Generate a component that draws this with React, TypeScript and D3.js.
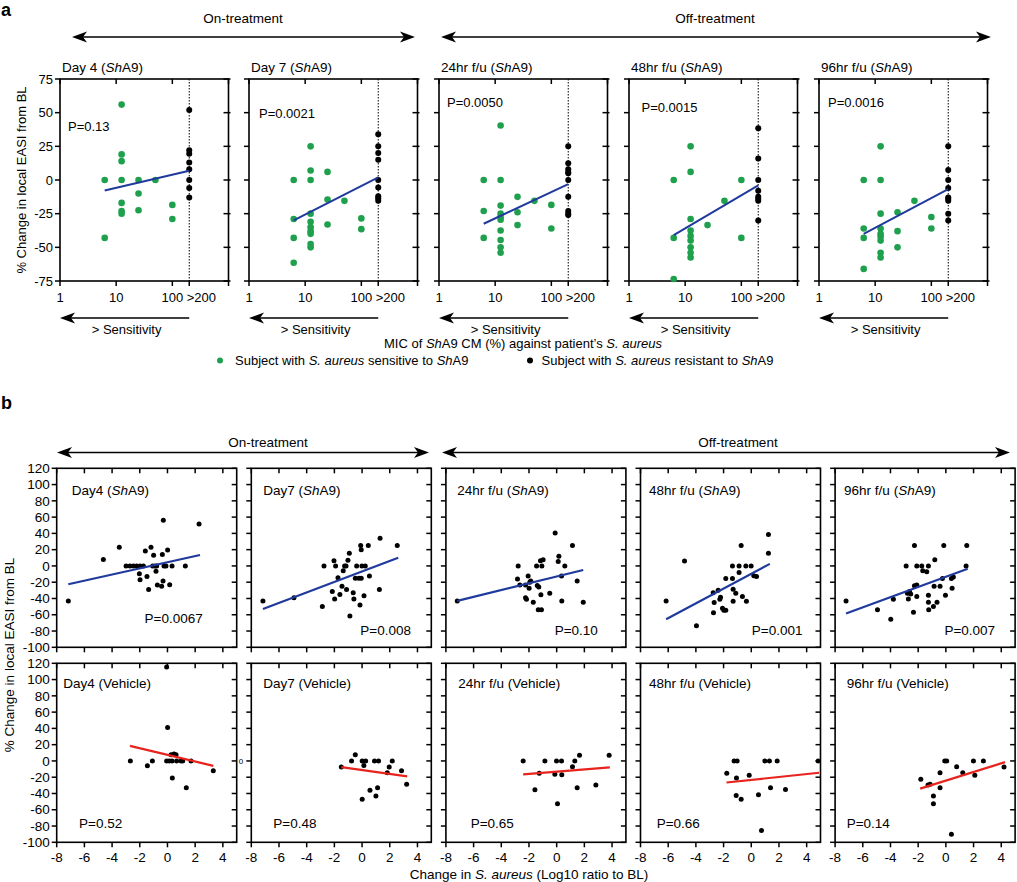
import React from "react";
import * as d3 from "d3";

const FONT = "'Liberation Sans', Arial, sans-serif";
const GREEN = "#1ea04c";
const BLUE = "#1f3a9c";
const RED = "#e8231d";

// ---------- Panel a data ----------
const aTitles = ["Day 4", "Day 7", "24hr f/u", "48hr f/u", "96hr f/u"];
const aPValues = ["P=0.13", "P=0.0021", "P=0.0050", "P=0.0015", "P=0.0016"];
const micTicks = [1, 10, 100, 1000];
const micTickLabels = ["1", "10", "100", ""];
const resistantMic = 200;
const resistantLabel = ">200";
const aYTicks = [-75, -50, -25, 0, 25, 50, 75];

// [MIC, % change] for subjects with S. aureus sensitive to ShA9
const aSensitive: [number, number][][] = [
  [[6.25, 0], [6.25, -43], [12.5, 56], [12.5, 19], [12.5, 14], [12.5, 0], [12.5, -17], [12.5, -23], [12.5, -25], [25, 0], [25, -10], [25, -22.5], [50, 0], [100, -18.5], [100, -29]],
  [[6.25, 0], [6.25, -29], [6.25, -43], [6.25, -61.5], [12.5, 25], [12.5, 7], [12.5, 0], [12.5, -25], [12.5, -31], [12.5, -35], [12.5, -38], [12.5, -40], [12.5, -47.5], [12.5, -50], [25, 6], [25, -14.5], [25, -33], [50, -15.5], [100, -28.5], [100, -36.5]],
  [[6.25, 0], [6.25, -23], [6.25, -43], [12.5, 40.5], [12.5, 0], [12.5, -19], [12.5, -25], [12.5, -27.5], [12.5, -29.5], [12.5, -37.5], [12.5, -44.5], [12.5, -50], [12.5, -54], [25, -12.5], [25, -24], [25, -33.5], [50, -15.5], [100, -18.5], [100, -36]],
  [[6.25, 0], [6.25, -43], [6.25, -73.5], [12.5, 25], [12.5, 6], [12.5, -29], [12.5, -37.5], [12.5, -41.5], [12.5, -45], [12.5, -50], [12.5, -54], [12.5, -57.5], [25, -33.5], [50, -15.5], [100, 0], [100, -43]],
  [[6.25, 0], [6.25, -36], [6.25, -43], [6.25, -66], [12.5, 25], [12.5, 0], [12.5, -25], [12.5, -36], [12.5, -40], [12.5, -42], [12.5, -45], [12.5, -54], [12.5, -57.5], [25, -24], [25, -38], [25, -50], [50, -15.5], [100, -27.5], [100, -36]],
];
// % change for subjects with S. aureus resistant to ShA9 (MIC > 200)
const aResistant: number[][] = [
  [52, 22, 19.5, 13, 8, 0, -6, -13],
  [34, 25, 20, 15, 0, -5.5, -12, -13.5, -15.5],
  [25, 12.5, 8, 6, 5, 0, -12.5, -23, -25, -26],
  [38.5, 16, 0, -8, -12.5, -14, -15.5, -30],
  [25, 7.5, 0, -6, -13, -14, -15.5, -25, -30],
];
// regression line ends [MIC, value]
const aFits: [number, number][][] = [
  [[6.25, -7.8], [200, 6.8]],
  [[6.25, -30], [200, 2]],
  [[6.25, -32.5], [200, -3]],
  [[6.25, -41], [200, -4]],
  [[6.25, -40], [200, -6.8]],
];

// ---------- Panel b data ----------
const bTitles = ["Day4", "Day7", "24hr f/u", "48hr f/u", "96hr f/u"];
const bPShA9 = ["P=0.0067", "P=0.008", "P=0.10", "P=0.001", "P=0.007"];
const bPVehicle = ["P=0.52", "P=0.48", "P=0.65", "P=0.66", "P=0.14"];
const bXTicks = [-8, -6, -4, -2, 0, 2, 4];
const bYTicks = [-100, -80, -60, -40, -20, 0, 20, 40, 60, 80, 100, 120];

// [log10 ratio S. aureus to BL, % change in local EASI]
const bShA9: [number, number][][] = [
  [[-7.16, -43], [-4.63, 8], [-3.48, 23], [-2.99, 0], [-2.71, 0], [-2.46, 0], [-2.22, 0], [-1.98, 0], [-1.74, 0], [-2.03, -9.5], [-1.98, -17], [-1.6, 18.5], [-1.48, -13], [-1.36, -29], [-1.19, 23], [-1.07, 0], [-1.0, 13], [-0.9, 0], [-0.83, -6.5], [-0.78, 0], [-0.73, -23.5], [-0.42, -25], [-0.37, 14], [-0.32, -18.5], [-0.3, 56], [-0.25, 0], [-0.11, 0], [0.01, 19.5], [0.16, -23], [0.33, 0], [1.29, 0], [2.28, 51.5]],
  [[-7.16, -43], [-4.92, -39], [-2.87, -50], [-2.75, 0], [-2.15, -31.5], [-2.03, 6.5], [-1.98, -40.5], [-1.91, 0], [-1.74, -14.5], [-1.6, -35], [-1.45, -25], [-1.36, -6], [-1.26, 0], [-1.16, 0], [-1.12, -29], [-1.02, 7], [-0.92, 15.5], [-0.88, -61.5], [-0.64, -33], [-0.59, -40.5], [-0.49, -15], [-0.39, 0], [-0.23, -15], [-0.15, -48], [-0.1, 25], [-0.06, 20], [-0.06, -15], [-0.01, 0], [0.14, -36.5], [0.23, 0], [0.45, 25], [0.53, -12.5], [1.25, -29], [1.3, 34], [2.54, 25]],
  [[-7.18, -43], [-2.78, 0], [-2.83, -16], [-2.66, -23.5], [-2.25, -23.5], [-2.25, -39], [-2.18, -41], [-2.06, -12.5], [-1.99, -27.5], [-1.94, -20], [-1.87, -18.5], [-1.69, -44.5], [-1.45, 0], [-1.4, -24], [-1.33, -54], [-1.29, -26], [-1.17, 6.5], [-1.14, -35.5], [-1.07, 0], [-1.1, -54], [-0.98, 7.5], [-0.5, -33.5], [-0.11, 40.5], [0.11, 5.5], [0.16, 12], [0.35, -12.5], [0.37, -43], [0.59, 0], [1.14, 25], [1.48, -18.5], [1.92, -44.5]],
  [[-6.15, -43], [-4.82, 6], [-3.96, -73.5], [-2.75, -33], [-2.73, -57.5], [-2.68, -45], [-2.39, -30], [-2.27, -41], [-2.22, -38.5], [-2.08, -52], [-1.98, -54.5], [-1.84, -54.5], [-1.84, -15.5], [-1.36, 0], [-1.36, -15.5], [-1.31, -28.5], [-1.31, -43.5], [-1.12, -33.5], [-0.88, 0], [-0.88, -8], [-0.73, 25], [-0.64, -37.5], [-0.39, 0], [-0.35, -43.5], [-0.01, 0], [0.18, -12], [0.38, -13], [1.24, 38.5], [1.24, 15.5]],
  [[-7.21, -43], [-4.94, -54], [-3.98, -65.5], [-3.79, -41], [-2.87, 0], [-2.78, -33.5], [-2.71, -40.5], [-2.63, -31.5], [-2.54, -34.5], [-2.34, -57], [-2.27, 25], [-2.27, -24.5], [-2.1, 0], [-2.1, -23.5], [-2.1, -37.5], [-1.74, 0], [-1.67, -6], [-1.38, -7], [-1.26, 0], [-1.26, -36], [-1.26, -44.5], [-1.24, -54], [-0.9, -50], [-0.8, 7.5], [-0.85, -25], [-0.64, -44.5], [-0.42, -25], [-0.25, -15.5], [-0.15, 25], [-0.03, -36], [0.4, -15.5], [0.45, -27.5], [0.54, -13.5], [1.51, 25], [1.46, 0]],
];
const bVehicle: [number, number][][] = [
  [[-2.68, 0], [-1.45, -6], [-1.09, 0], [-0.06, 115.5], [0.01, 41], [-0.06, 0], [0.13, 0], [0.26, 7.5], [0.33, 0], [0.35, -21], [0.47, 8.5], [0.62, 7.5], [0.66, 0], [0.98, 0], [1.1, 0], [1.36, -33], [1.7, 0], [3.31, -12]],
  [[-1.5, -7.5], [-0.76, 0], [-0.49, 7.5], [0.01, 0], [0.13, -5.5], [0.26, 0], [0.01, -47], [0.57, -36], [0.9, 0], [1.0, -43], [1.12, -33], [1.19, 0], [1.82, -14.5], [1.96, -7.5], [2.18, 0], [2.85, -12], [3.22, -28.5]],
  [[-2.42, 0], [-1.57, -35.5], [-1.26, -15], [-0.85, 0], [-0.13, -16.5], [-0.01, 0], [0.06, -52.5], [0.35, 0], [0.37, -17], [1.14, -7], [1.31, 0], [1.48, -33], [1.65, 7], [2.83, -29.5], [3.79, 7]],
  [[-1.77, -15], [-1.24, 0], [-1.02, 0], [-1.07, -21], [-1.09, -42.5], [-0.73, -47], [-0.15, -17.5], [0.52, -41.5], [0.74, -85.5], [0.98, 0], [1.31, 0], [1.39, -33], [1.87, 0], [2.47, -35], [4.83, 0]],
  [[-1.81, -22.5], [-1.29, -29.5], [-1.14, -28.5], [-0.9, -43], [-0.9, -52.5], [-0.42, -14.5], [-0.42, -33], [-0.08, 0], [0.06, 0], [0.4, -90], [0.78, -7], [1.22, -14.5], [1.99, 0], [2.09, -17.5], [2.71, 0], [4.2, -7.5]],
];
const bFitShA9: [number, number][][] = [
  [[-7.16, -22.5], [2.35, 13.5]],
  [[-7.16, -53], [2.61, 10]],
  [[-7.18, -43], [1.92, -5]],
  [[-6.15, -65.5], [1.34, 2.5]],
  [[-7.21, -58.5], [1.58, -3.5]],
];
const bFitVehicle: [number, number][][] = [
  [[-2.71, 18.5], [3.31, -6]],
  [[-1.5, -7.5], [3.26, -19]],
  [[-2.42, -16.5], [3.84, -8]],
  [[-1.79, -26.5], [4.9, -14.5]],
  [[-1.86, -34], [4.27, -1.5]],
];

// ---------- layout ----------
const W = 1017;
const H = 882;
const aLefts = [60, 249, 439, 629, 819];
const aW = 168.5;
const aTop = 79;
const aBottom = 281;
const aPOffsets: [number, number][] = [[8, 131], [10, 118], [8, 107], [12.5, 112], [9, 107]];

const bLefts = [56.7, 251.3, 445.9, 640.5, 835.1];
const bW = 180;
const bRows = [[468.3, 647.3], [663.3, 842.3]];
const bTitleOffTop = [15, 12, 11.4, 8.5, 9];
const bTitleOffBot = [6.6, 12, 12.4, 8.5, 11.6];
const bPEndTop = [34, 20.3, 28, 18, 20];
const bPBaseTop = [622.5, 634.5, 634.5, 634.5, 634.5];
const bPStartBot = [22.3, 22, 24.8, 16.2, 11.6];

const Arrow = ({ x1, x2, y, left = true, right = true }: any) => {
  const head = (x: number, dir: number) => {
    const L = 15, hw = 5.5, inset = 4;
    return `M${x},${y} L${x - dir * L},${y - hw} L${x - dir * (L - inset)},${y} L${x - dir * L},${y + hw} Z`;
  };
  return (
    <g>
      <line x1={left ? x1 + 6 : x1} x2={right ? x2 - 6 : x2} y1={y} y2={y} stroke="#000" strokeWidth={1.6} />
      {left && <path d={head(x1, -1)} fill="#000" />}
      {right && <path d={head(x2, 1)} fill="#000" />}
    </g>
  );
};

const Sh = () => <tspan fontStyle="italic">Sh</tspan>;

function PanelA({ i }: { i: number }) {
  const left = aLefts[i];
  const x = d3.scaleLog().domain([1, 1000]).range([left, left + aW]);
  const y = d3.scaleLinear().domain([-75, 75]).range([aBottom, aTop]);
  const line = d3.line<[number, number]>().x((d) => x(d[0])).y((d) => y(d[1]));
  const tk = 5;
  return (
    <g>
      <text x={left + 2} y={72} fontSize={13.5}>
        {aTitles[i]} (<Sh />A9)
      </text>
      <line x1={x(resistantMic)} x2={x(resistantMic)} y1={aTop} y2={aBottom} stroke="#000" strokeWidth={1} strokeDasharray="1.5,1.5" />
      <rect x={left} y={aTop} width={aW} height={aBottom - aTop} fill="none" stroke="#000" strokeWidth={1.6} />
      {aYTicks.map((t) => (
        <g key={t}>
          <line x1={left - tk} x2={left} y1={y(t)} y2={y(t)} stroke="#000" strokeWidth={1.5} />
          <line x1={left + aW - tk} x2={left + aW + 2} y1={y(t)} y2={y(t)} stroke="#000" strokeWidth={1.5} />
          {i === 0 && (
            <text x={left - 7} y={y(t)} dy="0.35em" textAnchor="end" fontSize={13}>
              {t}
            </text>
          )}
        </g>
      ))}
      {micTicks.map((t, k) => (
        <g key={t}>
          <line x1={x(t)} x2={x(t)} y1={aBottom} y2={aBottom + tk} stroke="#000" strokeWidth={1.5} />
          <line x1={x(t)} x2={x(t)} y1={aTop} y2={aTop + tk} stroke="#000" strokeWidth={1.5} />
          <text x={x(t)} y={aBottom + 16} dy="0.35em" textAnchor="middle" fontSize={13}>
            {micTickLabels[k]}
          </text>
        </g>
      ))}
      <line x1={x(resistantMic)} x2={x(resistantMic)} y1={aBottom} y2={aBottom + tk} stroke="#000" strokeWidth={1.5} />
      <text x={x(resistantMic) - 2.5} y={aBottom + 16} dy="0.35em" textAnchor="start" fontSize={13}>
        {resistantLabel}
      </text>
      <text x={left + aPOffsets[i][0]} y={aPOffsets[i][1]} fontSize={13}>
        {aPValues[i]}
      </text>
      {aSensitive[i].map((d, k) => (
        <circle key={k} cx={x(d[0])} cy={y(d[1])} r={3.3} fill={GREEN} />
      ))}
      {aResistant[i].map((v, k) => (
        <circle key={"r" + k} cx={x(resistantMic)} cy={y(v)} r={3} fill="#000" />
      ))}
      <path d={line(aFits[i]) || ""} stroke={BLUE} strokeWidth={2} fill="none" />
      <Arrow x1={x(1)} x2={x(resistantMic)} y={318} right={false} />
      <text x={(x(1) + x(resistantMic)) / 2 + 2} y={333.5} textAnchor="middle" fontSize={13}>
        &gt; Sensitivity
      </text>
    </g>
  );
}

function PanelB({ i, row }: { i: number; row: number }) {
  const left = bLefts[i];
  const [top, bottom] = bRows[row];
  const x = d3.scaleLinear().domain([-8, 5]).range([left, left + bW]);
  const y = d3.scaleLinear().domain([-100, 120]).range([bottom, top]);
  const line = d3.line<[number, number]>().x((d) => x(d[0])).y((d) => y(d[1]));
  const pts = row === 0 ? bShA9[i] : bVehicle[i];
  const fit = row === 0 ? bFitShA9[i] : bFitVehicle[i];
  const tk = 5;
  return (
    <g>
      <rect x={left} y={top} width={bW} height={bottom - top} fill="none" stroke="#000" strokeWidth={1.6} />
      {bYTicks.map((t) => (
        <g key={t}>
          <line x1={left - tk} x2={left} y1={y(t)} y2={y(t)} stroke="#000" strokeWidth={1.5} />
          <line x1={left + bW - tk} x2={left + bW} y1={y(t)} y2={y(t)} stroke="#000" strokeWidth={1.5} />
          {i === 0 && (
            <text x={left - 7} y={y(t)} dy="0.35em" textAnchor="end" fontSize={13.5}>
              {t}
            </text>
          )}
        </g>
      ))}
      {bXTicks.map((t) => (
        <g key={t}>
          <line x1={x(t)} x2={x(t)} y1={bottom} y2={bottom + tk} stroke="#000" strokeWidth={1.5} />
          <line x1={x(t)} x2={x(t)} y1={top} y2={top + tk} stroke="#000" strokeWidth={1.5} />
          {row === 1 && (
            <text x={x(t)} y={bottom + 15} dy="0.35em" textAnchor="middle" fontSize={13.5}>
              {t}
            </text>
          )}
        </g>
      ))}
      {row === 0 ? (
        <text x={left + bTitleOffTop[i]} y={494.5} fontSize={13.5}>
          {bTitles[i]} (<Sh />A9)
        </text>
      ) : (
        <text x={left + bTitleOffBot[i]} y={688} fontSize={13.5}>
          {bTitles[i]} (Vehicle)
        </text>
      )}
      {row === 0 ? (
        <text x={left + bW - bPEndTop[i]} y={bPBaseTop[i]} textAnchor="end" fontSize={13.5}>
          {bPShA9[i]}
        </text>
      ) : (
        <text x={left + bPStartBot[i]} y={827.5} fontSize={13.5}>
          {bPVehicle[i]}
        </text>
      )}
      {pts.map((d, k) => (
        <circle key={k} cx={x(d[0])} cy={y(d[1])} r={2.5} fill="#000" />
      ))}
      <path d={line(fit) || ""} stroke={row === 0 ? BLUE : RED} strokeWidth={2.2} fill="none" />
      {row === 1 && i === 1 && (
        <text x={left - 8} y={y(0)} dy="0.35em" textAnchor="end" fontSize={8}>
          0
        </text>
      )}
    </g>
  );
}

export default function App() {
  const idx = [0, 1, 2, 3, 4];
  return (
    <svg width={W} height={H} style={{ position: "absolute", left: 0, top: 0, background: "#fff" }} fontFamily={FONT}>
      <rect x={0} y={0} width={W} height={H} fill="#fff" />
      {/* ===== Panel a ===== */}
      <text x={1} y={16} fontSize={18} fontWeight="bold">a</text>
      <text x={243} y={23} textAnchor="middle" fontSize={13.5}>On-treatment</text>
      <Arrow x1={72} x2={415} y={37} />
      <text x={715} y={23} textAnchor="middle" fontSize={13.5}>Off-treatment</text>
      <Arrow x1={441} x2={991} y={37} />
      <text transform="translate(26,180) rotate(-90)" textAnchor="middle" fontSize={13}>
        % Change in local EASI from BL
      </text>
      {idx.map((i) => (
        <PanelA key={i} i={i} />
      ))}
      <text x={523} y={348} textAnchor="middle" fontSize={13}>
        MIC of <Sh />A9 CM (%) against patient’s <tspan fontStyle="italic">S. aureus</tspan>
      </text>
      <circle cx={220} cy={360.5} r={3} fill={GREEN} />
      <text x={235} y={365} fontSize={13}>
        Subject with <tspan fontStyle="italic">S. aureus</tspan> sensitive to <Sh />A9
      </text>
      <circle cx={530} cy={360.5} r={3} fill="#000" />
      <text x={541.5} y={365} fontSize={13}>
        Subject with <tspan fontStyle="italic">S. aureus</tspan> resistant to <Sh />A9
      </text>

      {/* ===== Panel b ===== */}
      <text x={1} y={409} fontSize={18} fontWeight="bold">b</text>
      <text x={268} y={447} textAnchor="middle" fontSize={13.5}>On-treatment</text>
      <Arrow x1={57} x2={429} y={452.5} />
      <text x={738} y={447} textAnchor="middle" fontSize={13.5}>Off-treatment</text>
      <Arrow x1={442} x2={1010} y={452.5} />
      <text transform="translate(14,655) rotate(-90)" textAnchor="middle" fontSize={13.5}>
        % Change in local EASI from BL
      </text>
      {idx.map((i) => (
        <PanelB key={"t" + i} i={i} row={0} />
      ))}
      {idx.map((i) => (
        <PanelB key={"b" + i} i={i} row={1} />
      ))}
      <text x={529} y={879} textAnchor="middle" fontSize={13.5}>
        Change in <tspan fontStyle="italic">S. aureus</tspan> (Log10 ratio to BL)
      </text>
    </svg>
  );
}
